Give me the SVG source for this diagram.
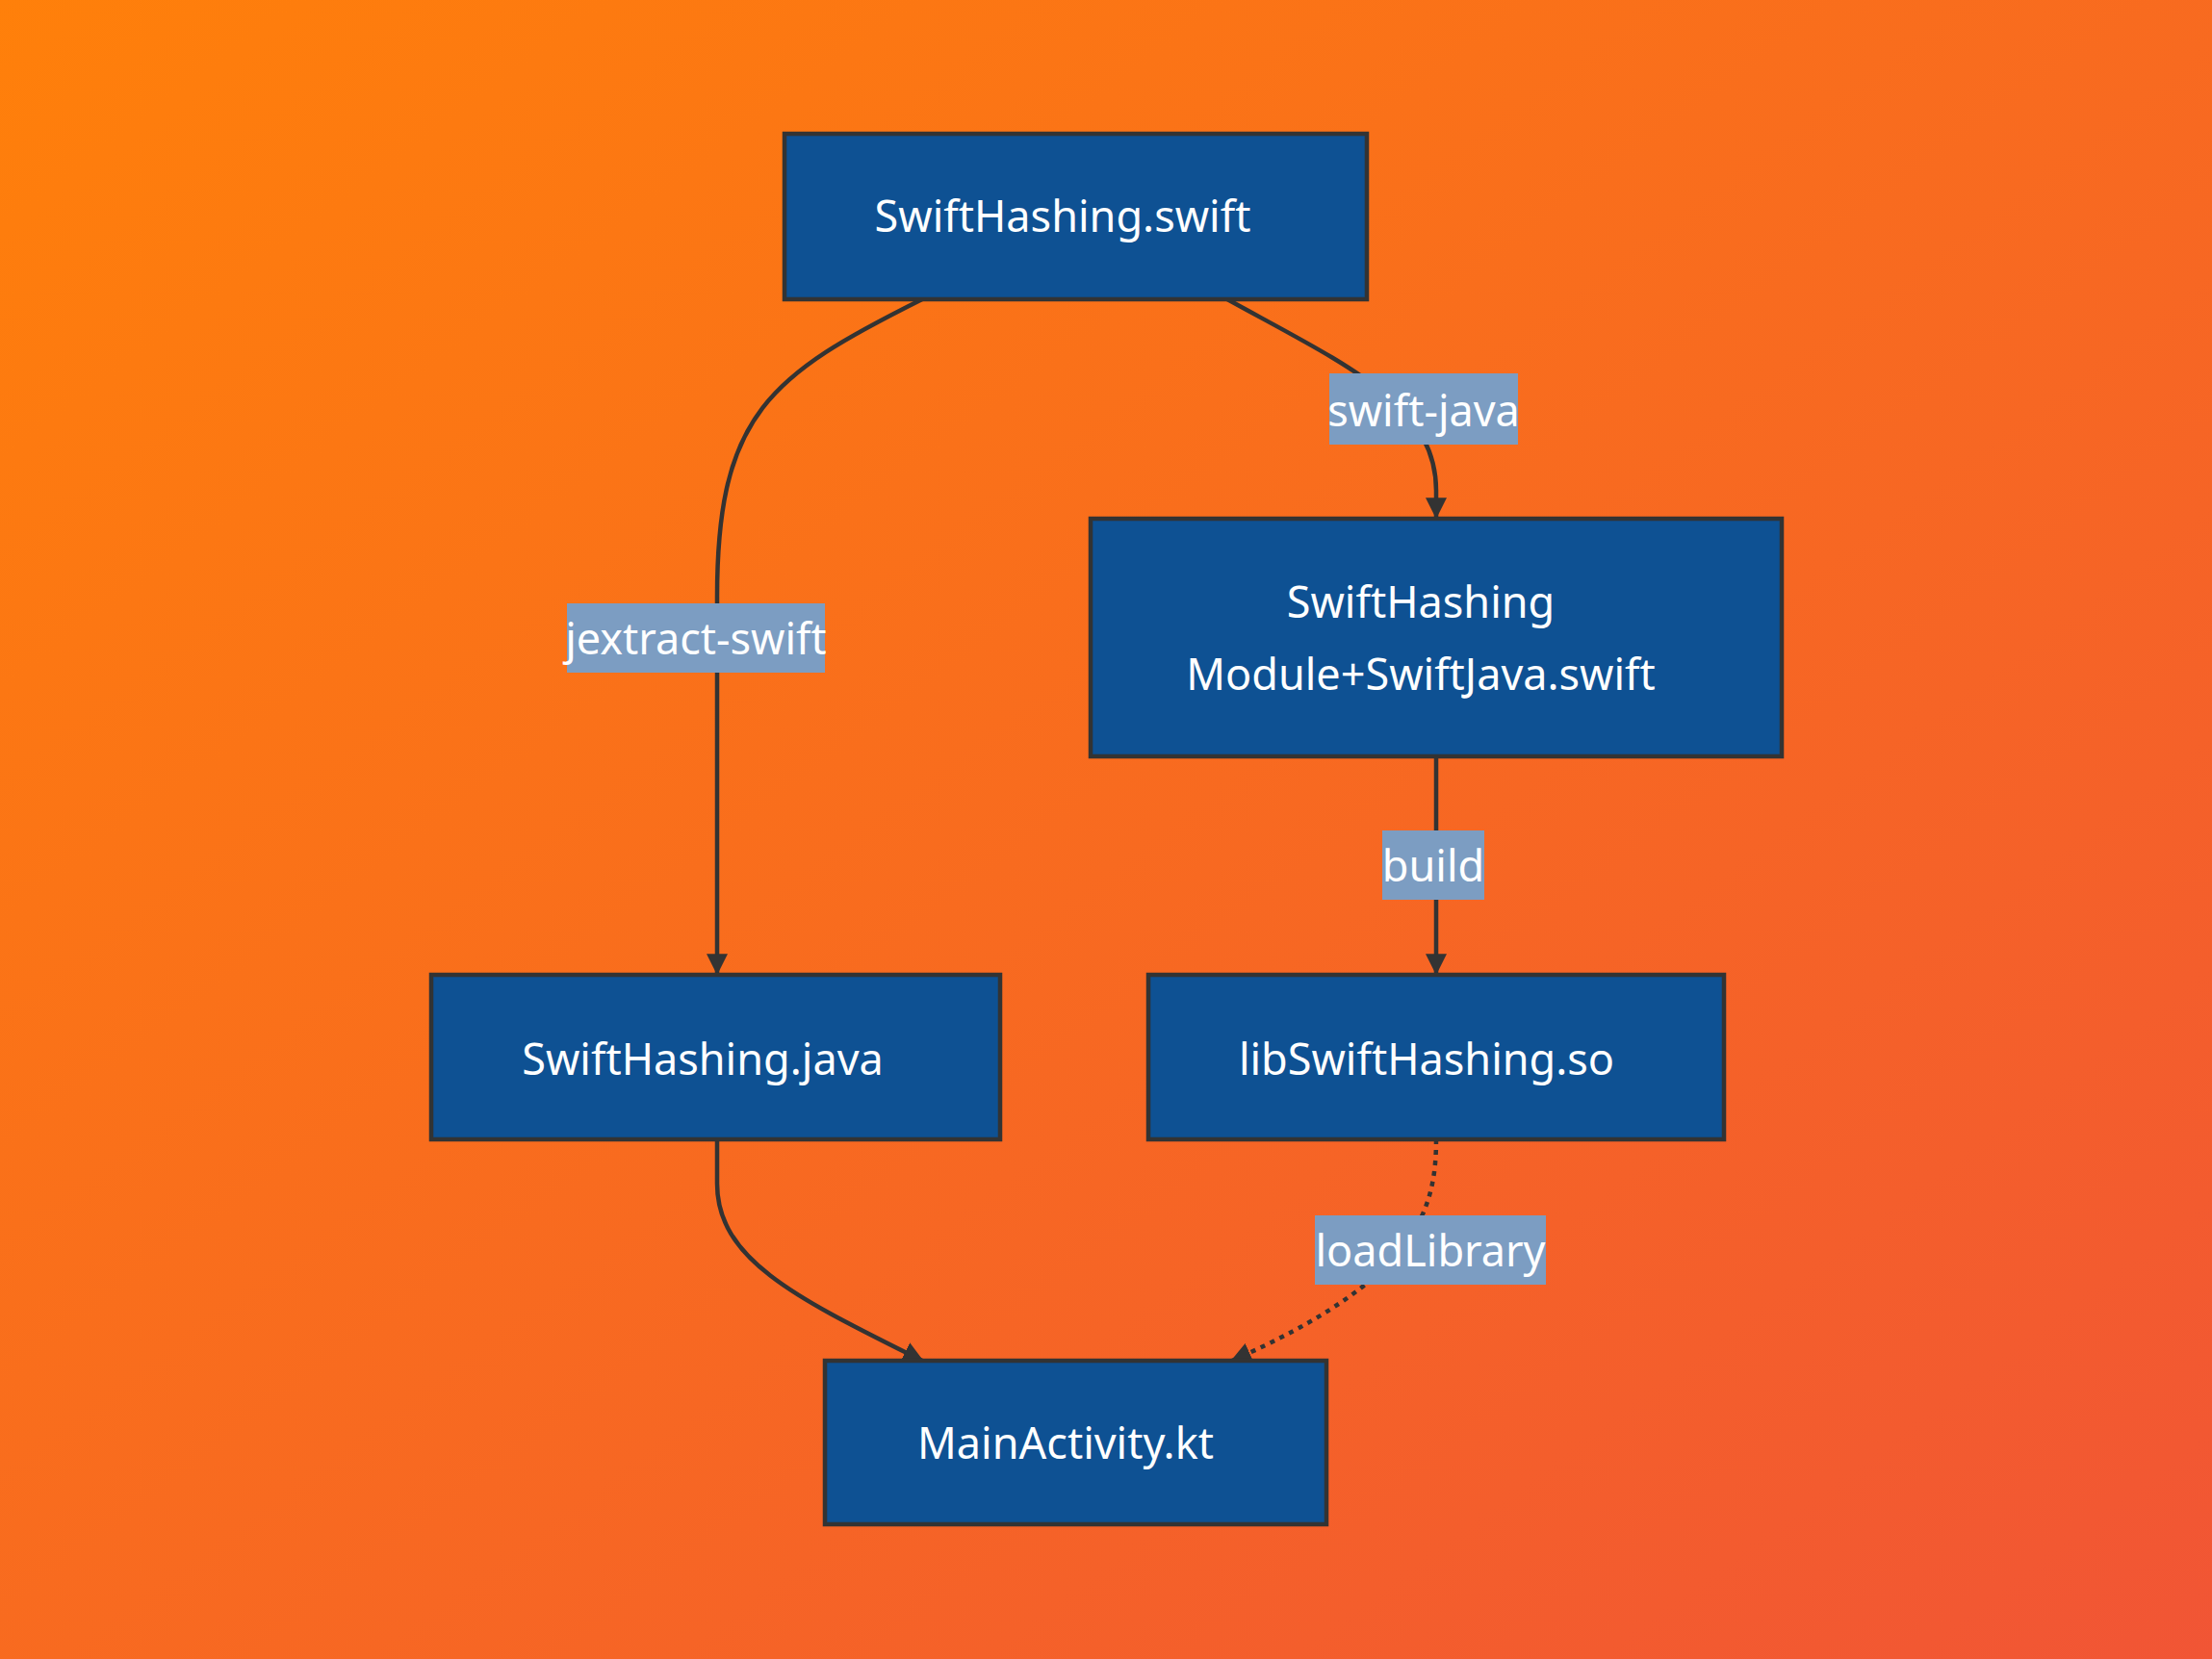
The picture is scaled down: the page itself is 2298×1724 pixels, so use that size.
<svg xmlns="http://www.w3.org/2000/svg" width="2298" height="1724" viewBox="0 0 2298 1724">
<defs>
<linearGradient id="bg" x1="0" y1="0" x2="1" y2="1">
<stop offset="0" stop-color="#FF800A"/><stop offset="1" stop-color="#F15535"/>
</linearGradient>
<marker id="ah" viewBox="0 0 10 10" refX="9" refY="5" markerWidth="6" markerHeight="6" markerUnits="userSpaceOnUse" orient="auto">
<path d="M0,0 L10,5 L0,10 z" fill="#333"/>
</marker>
<marker id="arr" viewBox="0 0 10 10" refX="9" refY="5" markerWidth="22" markerHeight="22" markerUnits="userSpaceOnUse" orient="auto">
<path d="M0,0 L10,5 L0,10 z" fill="#333"/>
</marker>
</defs>
<style>
.n{fill:#0E5193;stroke:#333;stroke-width:4.5}
.t{font-family:"Noto Sans","Open Sans",sans-serif;font-size:45px;fill:#fff;text-anchor:middle;dominant-baseline:central}
.e{fill:none;stroke:#333;stroke-width:4.5}
.lb{fill:#7C9DC2}
</style>
<rect width="2298" height="1724" fill="url(#bg)"/>
<g id="connectors">
<path class="e" d="M958,311 C800,390 745,430 745,620 L745,1011" marker-end="url(#arr)"/>
<path class="e" d="M1275,311 C1400,380 1492,420 1492,510 L1492,537" marker-end="url(#arr)"/>
<path class="e" d="M1492,786 L1492,1011" marker-end="url(#arr)"/>
<path class="e" d="M745,1184 L745,1230 C745,1310 830,1350 958,1414" marker-end="url(#arr)"/>
<path class="e" d="M1492,1184 C1492,1260 1470,1330 1280,1414" stroke-dasharray="5,6" marker-end="url(#arr)"/>
<rect class="lb" x="589" y="627" width="268" height="72"/><text class="t" x="723" y="662">jextract-swift</text>
<rect class="lb" x="1381" y="388" width="196" height="74"/><text class="t" x="1479" y="425">swift-java</text>
<rect class="lb" x="1436" y="863" width="106" height="72"/><text class="t" x="1489" y="898">build</text>
<rect class="lb" x="1366" y="1263" width="240" height="72"/><text class="t" x="1486" y="1298">loadLibrary</text>
</g>
<g id="n1"><rect class="n" x="815" y="139" width="605" height="172"/><text class="t" x="1104" y="223">SwiftHashing.swift</text></g>
<g id="n2"><rect class="n" x="1133" y="539" width="718" height="247"/><text class="t" x="1476" y="624">SwiftHashing</text><text class="t" x="1476" y="699">Module+SwiftJava.swift</text></g>
<g id="n3"><rect class="n" x="448" y="1013" width="591" height="171"/><text class="t" x="730" y="1099">SwiftHashing.java</text></g>
<g id="n4"><rect class="n" x="1193" y="1013" width="598" height="171"/><text class="t" x="1482" y="1099">libSwiftHashing.so</text></g>
<g id="n5"><rect class="n" x="857" y="1414" width="521" height="170"/><text class="t" x="1107" y="1498">MainActivity.kt</text></g>
</svg>
